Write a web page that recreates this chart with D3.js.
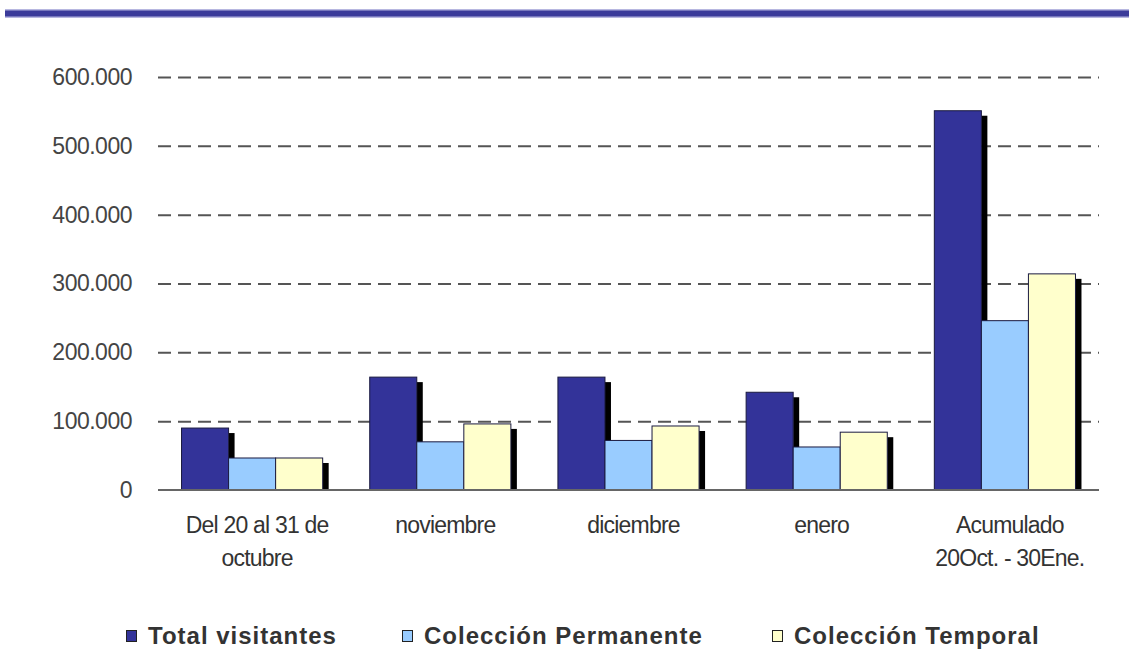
<!DOCTYPE html>
<html>
<head>
<meta charset="utf-8">
<script src="https://cdn.jsdelivr.net/npm/d3@7"></script>
<style>
  html, body { margin: 0; padding: 0; background: #fff; }
  svg { display: block; }
</style>
</head>
<body>
<svg id="chart" width="1129" height="651"></svg>
<script>
const categories = [["Del 20 al 31 de", "octubre"], ["noviembre"], ["diciembre"], ["enero"], ["Acumulado", "20Oct. - 30Ene."]];
const seriesNames = ["Total visitantes", "Colección Permanente", "Colección Temporal"];
const totalVisitantes = [90000, 164000, 164000, 142000, 551000];
const coleccionPermanente = [46500, 70000, 72000, 62500, 246000];
const coleccionTemporal = [46500, 96000, 93000, 84000, 314000];
const yTicks = [0, 100000, 200000, 300000, 400000, 500000, 600000];
const colors = ["#333399", "#99ccff", "#ffffcc"];

const svg = d3.select("#chart");
const W = 1129, H = 651;
const margin = { left: 158, right: 30, top: 77, bottom: 161 };
const plotW = W - margin.left - margin.right;
const plotH = H - margin.top - margin.bottom;

// top decorative rule
svg.append("rect").attr("x", 5).attr("y", 9).attr("width", W - 5).attr("height", 9).attr("fill", "#b7b7e0");
svg.append("rect").attr("x", 5).attr("y", 10.5).attr("width", W - 5).attr("height", 6).attr("fill", "#3b3b9a");

const g = svg.append("g").attr("transform", `translate(${margin.left},${margin.top})`);

const x0 = d3.scaleBand().domain(d3.range(categories.length)).range([0, plotW]).paddingInner(0.25).paddingOuter(0.125);
const x1 = d3.scaleBand().domain(d3.range(seriesNames.length)).range([0, x0.bandwidth()]);
const y = d3.scaleLinear().domain([0, 600000]).range([plotH, 0]);

// gridlines
const grid = g.append("g").call(d3.axisLeft(y).tickValues(yTicks.filter(v => v > 0)).tickSize(-plotW).tickFormat(""));
grid.select(".domain").remove();
grid.selectAll(".tick line").attr("stroke", "#555").attr("stroke-width", 2).attr("stroke-dasharray", "13,7");

// y tick labels
const fmt = v => v === 0 ? "0" : d3.format(",")(v).replace(/,/g, ".");
const yAxis = g.append("g").call(d3.axisLeft(y).tickValues(yTicks).tickSize(0).tickPadding(26).tickFormat(fmt));
yAxis.select(".domain").remove();
yAxis.selectAll("text").attr("font-family", "Arial, 'Liberation Sans', sans-serif").attr("font-size", 23)
  .attr("letter-spacing", -0.5).attr("fill", "#444");

const data = categories.map((c, i) => [totalVisitantes[i], coleccionPermanente[i], coleccionTemporal[i]]);

const groups = g.selectAll(".grp").data(data).join("g").attr("class", "grp").attr("transform", (d, i) => `translate(${x0(i)},0)`);

// shadows first
groups.selectAll(".shadow").data(d => d).join("rect").attr("class", "shadow")
  .attr("x", (d, j) => x1(j) + x1.bandwidth())
  .attr("y", d => y(d) + 5)
  .attr("width", 6)
  .attr("height", d => plotH - y(d) - 5)
  .attr("fill", "#000");

groups.selectAll(".bar").data(d => d).join("rect").attr("class", "bar")
  .attr("x", (d, j) => x1(j))
  .attr("y", d => y(d))
  .attr("width", x1.bandwidth())
  .attr("height", d => plotH - y(d))
  .attr("fill", (d, j) => colors[j])
  .attr("stroke", "#1a1a40")
  .attr("stroke-width", 1);

// baseline
g.append("line").attr("x1", 0).attr("x2", plotW).attr("y1", plotH).attr("y2", plotH).attr("stroke", "#666").attr("stroke-width", 2);

// x labels
const xl = g.selectAll(".xlab").data(categories).join("text").attr("class", "xlab")
  .attr("x", (d, i) => x0(i) + x0.bandwidth() / 2 + 5)
  .attr("y", plotH + 43)
  .attr("text-anchor", "middle")
  .attr("font-family", "Arial, 'Liberation Sans', sans-serif")
  .attr("font-size", 23)
  .attr("letter-spacing", -0.8)
  .attr("fill", "#333");
xl.selectAll("tspan").data(d => d).join("tspan")
  .attr("x", function() { return this.parentNode.getAttribute("x"); })
  .attr("dy", (d, k) => k === 0 ? 0 : 33)
  .text(d => d);

// legend
const legendX = [126, 402, 772];
const lg = svg.selectAll(".leg").data(seriesNames).join("g").attr("class", "leg")
  .attr("transform", (d, i) => `translate(${legendX[i]},644)`);
lg.append("rect").attr("x", 0.5).attr("y", -13.5).attr("width", 10).attr("height", 11)
  .attr("fill", (d, i) => colors[i]).attr("stroke", "#222").attr("stroke-width", 1);
lg.append("text").attr("x", 22).attr("y", 0)
  .attr("font-family", "Arial, 'Liberation Sans', sans-serif").attr("font-weight", "bold")
  .attr("font-size", 24).attr("letter-spacing", 1).attr("fill", "#333")
  .text(d => d);
</script>
</body>
</html>
